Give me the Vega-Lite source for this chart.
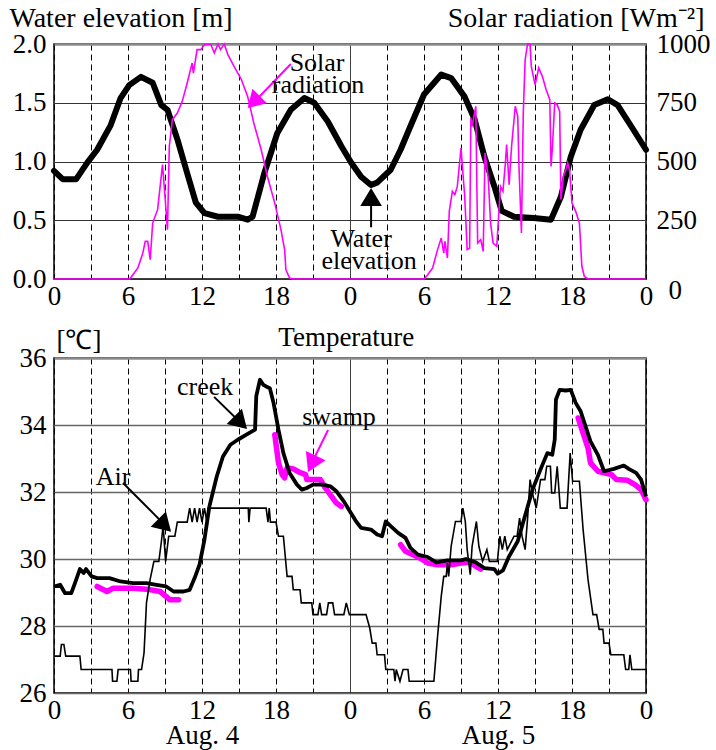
{
 "$schema": "https://vega.github.io/schema/vega-lite/v6.json",
 "padding": {"left": 8, "top": 3, "right": 5, "bottom": 2},
 "bounds": "flush",
 "spacing": 79,
 "config": {
  "font": "Liberation Serif, Times New Roman, Tinos, serif",
  "view": {"stroke": "black", "strokeWidth": 1.5},
  "axis": {"labelFontSize": 27, "labelColor": "black", "titleFontSize": 28, "titleColor": "black", "titleFontWeight": "normal", "ticks": false, "domain": false, "labelFont": "Liberation Serif, Times New Roman, Tinos, serif", "titleFont": "Liberation Serif, Times New Roman, Tinos, serif"},
  "text": {"font": "Liberation Serif, Times New Roman, Tinos, serif", "fontSize": 26},
  "title": {"font": "Liberation Serif, Times New Roman, Tinos, serif", "fontSize": 26, "fontWeight": "normal", "color": "black"}
 },
 "datasets": {
  "water": [{"h":0,"v":0.92},{"h":0.7,"v":0.85},{"h":1.8,"v":0.85},{"h":2.7,"v":0.99},{"h":3.5,"v":1.1},{"h":4.6,"v":1.31},{"h":5.4,"v":1.54},{"h":6.1,"v":1.65},{"h":7.05,"v":1.72},{"h":8.0,"v":1.67},{"h":8.7,"v":1.48},{"h":9.2,"v":1.44},{"h":10.0,"v":1.19},{"h":10.8,"v":0.9},{"h":11.5,"v":0.65},{"h":12.2,"v":0.56},{"h":13.3,"v":0.53},{"h":14.9,"v":0.53},{"h":15.7,"v":0.505},{"h":16.1,"v":0.53},{"h":17.05,"v":0.9},{"h":18.1,"v":1.24},{"h":19.2,"v":1.44},{"h":20.3,"v":1.54},{"h":21.1,"v":1.5},{"h":22.2,"v":1.34},{"h":23.3,"v":1.13},{"h":24.1,"v":0.99},{"h":24.9,"v":0.87},{"h":25.7,"v":0.8},{"h":26.2,"v":0.82},{"h":27.3,"v":0.93},{"h":28.1,"v":1.1},{"h":28.9,"v":1.3},{"h":30.0,"v":1.57},{"h":31.4,"v":1.74},{"h":32.2,"v":1.71},{"h":33.3,"v":1.55},{"h":34.1,"v":1.36},{"h":34.9,"v":1.04},{"h":35.7,"v":0.79},{"h":36.3,"v":0.58},{"h":37.3,"v":0.53},{"h":38.9,"v":0.52},{"h":40.3,"v":0.505},{"h":41.1,"v":0.7},{"h":41.9,"v":1.04},{"h":42.7,"v":1.27},{"h":43.8,"v":1.48},{"h":44.9,"v":1.53},{"h":45.7,"v":1.48},{"h":46.8,"v":1.3},{"h":48,"v":1.1}],
  "solar": [{"h":0,"s":0},{"h":6.1,"s":0},{"h":6.2,"s":4},{"h":6.8,"s":47},{"h":7.2,"s":110},{"h":7.4,"s":160},{"h":7.6,"s":160},{"h":7.8,"s":82},{"h":8.0,"s":238},{"h":8.4,"s":295},{"h":8.8,"s":487},{"h":9.0,"s":352},{"h":9.2,"s":210},{"h":9.35,"s":565},{"h":9.6,"s":678},{"h":10.0,"s":706},{"h":10.4,"s":756},{"h":10.8,"s":834},{"h":11.2,"s":919},{"h":11.3,"s":876},{"h":11.6,"s":976},{"h":11.9,"s":976},{"h":12.2,"s":997},{"h":12.7,"s":1000},{"h":13.0,"s":962},{"h":13.3,"s":1000},{"h":13.5,"s":976},{"h":13.8,"s":1000},{"h":14.1,"s":955},{"h":14.6,"s":905},{"h":15.2,"s":848},{"h":15.7,"s":777},{"h":16.2,"s":664},{"h":16.8,"s":550},{"h":17.3,"s":437},{"h":17.9,"s":323},{"h":18.4,"s":210},{"h":18.7,"s":125},{"h":18.8,"s":40},{"h":19.1,"s":4},{"h":19.4,"s":0},{"h":30.0,"s":0},{"h":30.3,"s":18},{"h":30.7,"s":47},{"h":31.1,"s":125},{"h":31.4,"s":174},{"h":31.6,"s":110},{"h":31.7,"s":160},{"h":31.9,"s":89},{"h":32.05,"s":288},{"h":32.3,"s":373},{"h":32.5,"s":359},{"h":32.7,"s":394},{"h":33.0,"s":557},{"h":33.3,"s":352},{"h":33.5,"s":125},{"h":33.7,"s":132},{"h":33.8,"s":685},{"h":33.9,"s":650},{"h":34.2,"s":735},{"h":34.35,"s":153},{"h":34.6,"s":167},{"h":34.8,"s":118},{"h":34.95,"s":536},{"h":35.2,"s":437},{"h":35.4,"s":238},{"h":35.6,"s":153},{"h":35.9,"s":139},{"h":36.2,"s":394},{"h":36.4,"s":373},{"h":36.6,"s":494},{"h":36.7,"s":572},{"h":36.9,"s":401},{"h":37.1,"s":565},{"h":37.4,"s":735},{"h":37.6,"s":692},{"h":37.7,"s":479},{"h":37.9,"s":196},{"h":38.05,"s":706},{"h":38.2,"s":933},{"h":38.4,"s":1000},{"h":38.6,"s":997},{"h":38.7,"s":905},{"h":39.0,"s":827},{"h":39.1,"s":848},{"h":39.3,"s":898},{"h":39.6,"s":862},{"h":39.9,"s":806},{"h":40.2,"s":763},{"h":40.3,"s":479},{"h":40.4,"s":550},{"h":40.6,"s":749},{"h":40.8,"s":742},{"h":41.0,"s":713},{"h":41.1,"s":338},{"h":41.3,"s":437},{"h":41.5,"s":465},{"h":41.65,"s":494},{"h":41.8,"s":465},{"h":42.0,"s":323},{"h":42.3,"s":288},{"h":42.6,"s":238},{"h":42.8,"s":54},{"h":43.0,"s":11},{"h":43.3,"s":0},{"h":48,"s":0}],
  "creek": [{"h":0,"t":29.18},{"h":0.5,"t":29.23},{"h":0.9,"t":28.98},{"h":1.4,"t":28.98},{"h":1.7,"t":29.28},{"h":2.1,"t":29.7},{"h":2.4,"t":29.58},{"h":2.6,"t":29.7},{"h":3.05,"t":29.48},{"h":3.5,"t":29.43},{"h":4.5,"t":29.43},{"h":5.4,"t":29.33},{"h":6.4,"t":29.28},{"h":7.5,"t":29.28},{"h":8.3,"t":29.23},{"h":9.1,"t":29.18},{"h":9.7,"t":29.03},{"h":10.5,"t":29.03},{"h":11.0,"t":29.08},{"h":11.4,"t":29.43},{"h":11.8,"t":29.83},{"h":12.2,"t":30.58},{"h":12.6,"t":31.57},{"h":13.2,"t":32.47},{"h":13.7,"t":33.06},{"h":14.3,"t":33.41},{"h":14.9,"t":33.56},{"h":15.6,"t":33.71},{"h":16.3,"t":33.86},{"h":16.4,"t":34.86},{"h":16.7,"t":35.35},{"h":16.97,"t":35.2},{"h":17.2,"t":35.15},{"h":17.5,"t":35.1},{"h":17.8,"t":34.66},{"h":18.2,"t":33.86},{"h":18.6,"t":33.16},{"h":19.1,"t":32.57},{"h":19.7,"t":32.22},{"h":20.1,"t":32.07},{"h":20.5,"t":32.12},{"h":21.0,"t":32.22},{"h":21.8,"t":32.22},{"h":22.4,"t":32.17},{"h":22.9,"t":32.02},{"h":23.5,"t":31.72},{"h":24.0,"t":31.42},{"h":24.5,"t":31.12},{"h":24.9,"t":30.93},{"h":25.7,"t":30.88},{"h":26.2,"t":30.73},{"h":26.6,"t":30.68},{"h":26.9,"t":31.12},{"h":27.3,"t":30.98},{"h":27.9,"t":30.78},{"h":28.5,"t":30.63},{"h":28.9,"t":30.33},{"h":29.5,"t":30.13},{"h":30.3,"t":30.06},{"h":31.0,"t":29.9},{"h":31.9,"t":29.96},{"h":33.0,"t":29.96},{"h":33.4,"t":30.0},{"h":34.2,"t":29.9},{"h":34.9,"t":29.73},{"h":35.7,"t":29.7},{"h":35.97,"t":29.56},{"h":36.4,"t":29.66},{"h":36.9,"t":30.08},{"h":37.6,"t":30.53},{"h":38.1,"t":31.17},{"h":38.8,"t":32.07},{"h":39.5,"t":32.72},{"h":40.0,"t":33.16},{"h":40.4,"t":33.11},{"h":40.6,"t":33.56},{"h":40.7,"t":34.76},{"h":41.0,"t":35.05},{"h":41.5,"t":35.03},{"h":41.9,"t":35.05},{"h":42.3,"t":34.66},{"h":42.7,"t":34.41},{"h":43.1,"t":33.96},{"h":43.5,"t":33.51},{"h":44.1,"t":33.11},{"h":44.6,"t":32.62},{"h":45.4,"t":32.69},{"h":46.2,"t":32.79},{"h":46.6,"t":32.69},{"h":47.2,"t":32.57},{"h":47.6,"t":32.37},{"h":48.0,"t":31.87}],
  "swamp": [{"h":3.5,"t":29.18,"seg":1},{"h":4.3,"t":29.03,"seg":1},{"h":4.8,"t":29.13,"seg":1},{"h":6.4,"t":29.13,"seg":1},{"h":7.5,"t":29.1,"seg":1},{"h":8.6,"t":29.03,"seg":1},{"h":9.1,"t":28.88,"seg":1},{"h":9.4,"t":28.78,"seg":1},{"h":10.1,"t":28.78,"seg":1},
   {"h":17.9,"t":33.71,"seg":2},{"h":18.2,"t":32.87,"seg":2},{"h":18.5,"t":32.52,"seg":2},{"h":18.7,"t":32.42,"seg":2},{"h":18.9,"t":32.72,"seg":2},{"h":19.4,"t":32.69,"seg":2},{"h":19.9,"t":32.59,"seg":2},{"h":20.4,"t":32.52,"seg":2},{"h":20.5,"t":32.37,"seg":2},{"h":21.6,"t":32.37,"seg":2},{"h":22.0,"t":32.12,"seg":2},{"h":22.5,"t":31.87,"seg":2},{"h":22.9,"t":31.67,"seg":2},{"h":23.3,"t":31.57,"seg":2},
   {"h":28.1,"t":30.43,"seg":3},{"h":28.5,"t":30.23,"seg":3},{"h":29.1,"t":30.13,"seg":3},{"h":29.8,"t":30.0,"seg":3},{"h":30.3,"t":29.88,"seg":3},{"h":31.1,"t":29.83,"seg":3},{"h":32.2,"t":29.83,"seg":3},{"h":33.0,"t":29.88,"seg":3},{"h":33.8,"t":29.9,"seg":3},{"h":34.2,"t":29.78,"seg":3},{"h":34.6,"t":29.7,"seg":3},
   {"h":42.5,"t":34.21,"seg":4},{"h":42.9,"t":33.76,"seg":4},{"h":43.3,"t":33.31,"seg":4},{"h":43.5,"t":32.87,"seg":4},{"h":44.1,"t":32.62,"seg":4},{"h":44.6,"t":32.57,"seg":4},{"h":45.2,"t":32.52,"seg":4},{"h":45.6,"t":32.37,"seg":4},{"h":46.5,"t":32.35,"seg":4},{"h":47.1,"t":32.22,"seg":4},{"h":47.6,"t":32.07,"seg":4},{"h":48.0,"t":31.77,"seg":4}],
  "air": [{"h":0,"t":27.1},{"h":0.5,"t":27.1},{"h":0.6,"t":27.45},{"h":0.8,"t":27.45},{"h":0.95,"t":27.1},{"h":2.1,"t":27.1},{"h":2.2,"t":26.7},{"h":4.7,"t":26.7},{"h":4.75,"t":26.35},{"h":5.1,"t":26.35},{"h":5.2,"t":26.7},{"h":6.2,"t":26.7},{"h":6.25,"t":26.35},{"h":6.8,"t":26.35},{"h":6.85,"t":26.7},{"h":7.1,"t":26.7},{"h":7.3,"t":27.2},{"h":7.5,"t":28.7},{"h":7.8,"t":29.4},{"h":8.1,"t":29.93},{"h":8.5,"t":29.93},{"h":8.7,"t":30.5},{"h":8.85,"t":30.98},{"h":9.05,"t":29.93},{"h":9.3,"t":30.68},{"h":9.8,"t":30.68},{"h":10.0,"t":31.1},{"h":10.8,"t":31.1},{"h":11.0,"t":31.52},{"h":11.2,"t":31.1},{"h":11.4,"t":31.52},{"h":11.6,"t":31.1},{"h":11.8,"t":31.52},{"h":12.0,"t":31.1},{"h":12.2,"t":31.52},{"h":12.4,"t":31.1},{"h":12.5,"t":31.52},{"h":15.75,"t":31.52},{"h":15.8,"t":31.1},{"h":15.9,"t":31.52},{"h":17.2,"t":31.52},{"h":17.35,"t":31.1},{"h":17.45,"t":31.52},{"h":17.55,"t":31.1},{"h":18.0,"t":31.1},{"h":18.2,"t":30.68},{"h":18.6,"t":30.68},{"h":18.9,"t":29.48},{"h":19.3,"t":29.48},{"h":19.4,"t":29.08},{"h":19.95,"t":29.08},{"h":20.05,"t":28.69},{"h":20.9,"t":28.69},{"h":21.0,"t":28.34},{"h":21.4,"t":28.34},{"h":21.55,"t":28.69},{"h":21.7,"t":28.34},{"h":22.1,"t":28.34},{"h":22.25,"t":28.69},{"h":22.6,"t":28.69},{"h":22.75,"t":28.34},{"h":23.5,"t":28.34},{"h":23.7,"t":28.69},{"h":23.95,"t":28.34},{"h":25.3,"t":28.34},{"h":25.6,"t":27.94},{"h":25.8,"t":27.49},{"h":26.1,"t":27.49},{"h":26.2,"t":27.14},{"h":26.8,"t":27.14},{"h":26.9,"t":26.7},{"h":27.55,"t":26.7},{"h":27.65,"t":26.35},{"h":27.75,"t":26.7},{"h":28.05,"t":26.35},{"h":28.3,"t":26.7},{"h":28.7,"t":26.7},{"h":28.8,"t":26.35},{"h":30.8,"t":26.35},{"h":31.1,"t":27.69},{"h":31.4,"t":28.89},{"h":31.6,"t":29.48},{"h":31.8,"t":29.48},{"h":31.9,"t":29.88},{"h":32.0,"t":29.48},{"h":32.2,"t":30.38},{"h":32.55,"t":31.12},{"h":33.0,"t":31.12},{"h":33.15,"t":31.52},{"h":33.35,"t":31.12},{"h":33.5,"t":30.28},{"h":33.75,"t":29.53},{"h":33.9,"t":30.38},{"h":34.25,"t":31.12},{"h":34.45,"t":30.38},{"h":34.75,"t":29.93},{"h":35.1,"t":30.28},{"h":35.3,"t":29.93},{"h":35.95,"t":29.93},{"h":36.15,"t":30.68},{"h":36.35,"t":30.28},{"h":36.55,"t":30.68},{"h":36.75,"t":30.28},{"h":37.3,"t":30.68},{"h":37.55,"t":30.68},{"h":37.75,"t":31.22},{"h":37.95,"t":30.68},{"h":38.2,"t":30.28},{"h":38.4,"t":31.22},{"h":38.6,"t":32.37},{"h":38.85,"t":31.87},{"h":39.1,"t":31.52},{"h":39.45,"t":32.37},{"h":39.8,"t":32.37},{"h":39.95,"t":32.77},{"h":40.25,"t":32.77},{"h":40.35,"t":31.97},{"h":40.6,"t":31.97},{"h":40.8,"t":32.77},{"h":41.05,"t":31.52},{"h":41.6,"t":31.52},{"h":41.85,"t":33.16},{"h":42.05,"t":32.32},{"h":42.6,"t":32.32},{"h":42.9,"t":30.88},{"h":43.3,"t":29.38},{"h":43.7,"t":28.34},{"h":44.0,"t":28.34},{"h":44.2,"t":27.9},{"h":44.5,"t":27.9},{"h":44.6,"t":27.49},{"h":45.0,"t":27.49},{"h":45.15,"t":27.14},{"h":46.2,"t":27.14},{"h":46.35,"t":26.7},{"h":46.6,"t":26.7},{"h":46.7,"t":27.14},{"h":46.85,"t":26.7},{"h":48,"t":26.7}]
 },
 "vconcat": [
  {
   "width": 592,
   "height": 235,
   "encoding": {
    "x": {"field": "h", "type": "quantitative", "scale": {"domain": [0, 48], "nice": false, "zero": false},
     "axis": {"values": [0,3,6,9,12,15,18,21,24,27,30,33,36,39,42,45,48], "labelExpr": "datum.value % 6 === 0 ? '' + (datum.value % 24) : ''", "labelOverlap": false, "labelFlush": false, "labelPadding": 4, "grid": true, "gridColor": "black", "gridWidth": 1, "gridDash": {"condition": {"test": "datum.value === 24", "value": [1, 0]}, "value": [6, 4]}, "title": null}}
   },
   "layer": [
    {
     "encoding": {
      "y": {"field": "v", "type": "quantitative", "scale": {"domain": [0, 2], "nice": false},
       "axis": {"values": [0, 0.5, 1, 1.5, 2], "format": ".1f", "grid": true, "gridColor": {"condition": {"test": "datum.value === 2", "value": "#8c8c8c"}, "value": "#333333"}, "gridWidth": {"condition": {"test": "datum.value === 2", "value": 2.5}, "value": 1}, "labelPadding": 8, "title": "Water elevation [m]", "titleAngle": 0, "titleAlign": "left", "titleBaseline": "alphabetic", "titleX": -45, "titleY": -18}}
     },
     "layer": [
      {"data": {"name": "water"}, "mark": {"type": "line", "color": "black", "strokeWidth": 6, "strokeJoin": "round", "strokeCap": "round"}},
      {"data": {"values": [{"h": 19.2, "v": 1.83, "h2": 15.9, "v2": 1.47}]}, "mark": {"type": "rule", "color": "#ff00ff", "strokeWidth": 2}, "encoding": {"x2": {"field": "h2"}, "y2": {"field": "v2"}}},
      {"data": {"values": [{"h": 15.7, "v": 1.455}]}, "mark": {"type": "point", "shape": "M0,0L0.6,1L-0.6,1Z", "filled": true, "color": "#ff00ff", "opacity": 1, "size": 1156, "angle": 225, "strokeWidth": 0}},
      {"data": {"values": [{"h": 25.71, "v": 0.44, "h2": 25.71, "v2": 0.7}]}, "mark": {"type": "rule", "color": "black", "strokeWidth": 2}, "encoding": {"x2": {"field": "h2"}, "y2": {"field": "v2"}}},
      {"data": {"values": [{"h": 25.71, "v": 0.775}]}, "mark": {"type": "point", "shape": "M0,0L0.6,1L-0.6,1Z", "filled": true, "color": "black", "opacity": 1, "size": 1296, "angle": 0, "strokeWidth": 0}},
      {"data": {"values": [{"h": 21.33, "v": 1.77, "label": "Solar"}, {"h": 21.41, "v": 1.583, "label": "radiation"}, {"h": 24.9, "v": 0.272, "label": "Water"}, {"h": 25.55, "v": 0.085, "label": "elevation"}]}, "mark": {"type": "text", "align": "center", "baseline": "alphabetic", "fontSize": 26, "color": "black"}, "encoding": {"text": {"field": "label"}}}
     ]
    },
    {
     "data": {"name": "solar"},
     "mark": {"type": "line", "color": "#ff00ff", "strokeWidth": 1.6},
     "encoding": {
      "y": {"field": "s", "type": "quantitative", "scale": {"domain": [0, 1000], "nice": false},
       "axis": {"orient": "right", "values": [0, 250, 500, 750, 1000], "format": "d", "grid": false, "labelPadding": {"condition": {"test": "datum.value === 0", "value": 22}, "value": 10}, "labelOffset": {"condition": {"test": "datum.value === 0", "value": 11}, "value": 0}, "title": "Solar radiation [Wm⁻²]", "titleAngle": 0, "titleAlign": "right", "titleBaseline": "alphabetic", "titleX": 58, "titleY": -18}}
     }
    }
   ],
   "resolve": {"scale": {"y": "independent"}, "axis": {"y": "independent"}}
  },
  {
   "width": 592,
   "height": 335,
   "encoding": {
    "x": {"field": "h", "type": "quantitative", "scale": {"domain": [0, 48], "nice": false, "zero": false},
     "axis": {"values": [0,3,6,9,12,15,18,21,24,27,30,33,36,39,42,45,48], "labelExpr": "datum.value === 12 ? ['12', 'Aug. 4'] : datum.value === 36 ? ['12', 'Aug. 5'] : (datum.value % 6 === 0 ? '' + (datum.value % 24) : '')", "labelLineHeight": 25, "labelOverlap": false, "labelFlush": false, "labelPadding": 4, "grid": true, "gridColor": "black", "gridWidth": 1, "gridDash": {"condition": {"test": "datum.value === 24", "value": [1, 0]}, "value": [6, 4]}, "title": null}},
    "y": {"field": "t", "type": "quantitative", "scale": {"domain": [26, 36], "nice": false, "zero": false},
     "axis": {"values": [26, 28, 30, 32, 34, 36], "grid": true, "gridColor": {"condition": {"test": "datum.value === 36", "value": "#8c8c8c"}, "value": "#666666"}, "gridWidth": {"condition": {"test": "datum.value === 36", "value": 2.5}, "value": 1.3}, "labelPadding": 8, "title": "[℃]", "titleFontSize": 27, "titleAngle": 0, "titleAlign": "left", "titleBaseline": "alphabetic", "titleX": 2, "titleY": -10}}
   },
   "layer": [
    {"data": {"name": "swamp"}, "mark": {"type": "line", "color": "#ff00ff", "strokeWidth": 5.5, "strokeJoin": "round", "strokeCap": "round"}, "encoding": {"detail": {"field": "seg", "type": "nominal"}}},
    {"data": {"name": "creek"}, "mark": {"type": "line", "color": "black", "strokeWidth": 3.8, "strokeJoin": "round"}},
    {"data": {"name": "air"}, "mark": {"type": "line", "color": "black", "strokeWidth": 1.6}},
    {"data": {"values": [{"h": 12.98, "t": 34.84, "h2": 15.4, "t2": 33.97}, {"h": 5.6, "t": 32.27, "h2": 9.3, "t2": 30.9}]}, "mark": {"type": "rule", "color": "black", "strokeWidth": 2}, "encoding": {"x2": {"field": "h2"}, "y2": {"field": "t2"}}},
    {"data": {"values": [{"h": 22.22, "t": 33.85, "h2": 20.75, "t2": 32.75}]}, "mark": {"type": "rule", "color": "#ff00ff", "strokeWidth": 2}, "encoding": {"x2": {"field": "h2"}, "y2": {"field": "t2"}}},
    {"data": {"values": [{"h": 15.65, "t": 33.88}, {"h": 9.49, "t": 30.81}]}, "mark": {"type": "point", "shape": "M0,0L0.6,1L-0.6,1Z", "filled": true, "color": "black", "opacity": 1, "size": 1296, "angle": 135, "strokeWidth": 0}},
    {"data": {"values": [{"h": 20.6, "t": 32.6}]}, "mark": {"type": "point", "shape": "M0,0L0.6,1L-0.6,1Z", "filled": true, "color": "#ff00ff", "opacity": 1, "size": 1296, "angle": 205, "strokeWidth": 0}},
    {"data": {"values": [{"h": 12.25, "t": 34.9, "label": "creek"}, {"h": 23.11, "t": 34.0, "label": "swamp"}, {"h": 4.78, "t": 32.21, "label": "Air"}]}, "mark": {"type": "text", "align": "center", "baseline": "alphabetic", "fontSize": 26, "color": "black"}, "encoding": {"text": {"field": "label"}}},
    {"data": {"values": [{"h": 23.7, "t": 36.36, "label": "Temperature"}]}, "mark": {"type": "text", "align": "center", "baseline": "alphabetic", "fontSize": 27, "color": "black"}, "encoding": {"text": {"field": "label"}}}
   ]
  }
 ]
}
